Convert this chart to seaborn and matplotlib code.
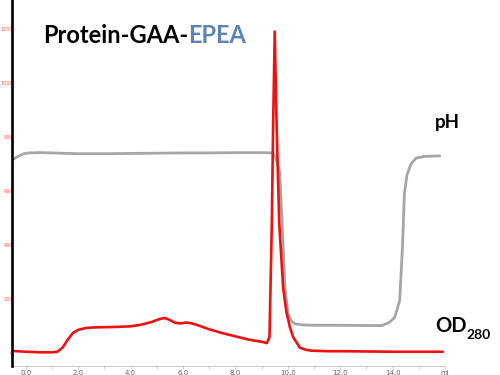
import numpy as np
import pandas as pd
import matplotlib
matplotlib.use("Agg")
import matplotlib.pyplot as plt
import seaborn as sns

# elution volume (ml) and OD280 signal (mAU)
od_ml = [-0.53, 0.0, 0.5, 1.0, 1.2, 1.4, 1.6, 1.8, 2.0, 2.3, 2.6, 3.0, 3.5, 4.0,
         4.4, 4.8, 5.1, 5.3, 5.5, 5.7, 5.9, 6.1, 6.3, 6.6, 7.0, 7.5, 8.0, 8.5,
         9.0, 9.2, 9.3, 9.39, 9.44, 9.5, 9.57, 9.67, 9.82, 9.95, 10.08, 10.2,
         10.46, 10.7, 10.9, 11.5, 12.0, 13.0, 14.0, 15.0, 15.92]
od_vals = [8, 5, 3, 3, 5, 20, 50, 75, 86, 93, 95, 96, 97, 99,
           105, 115, 126, 130, 122, 112, 110, 113, 111, 102, 88, 74, 62, 50,
           42, 37, 60, 486, 852, 1190, 852, 486, 242, 150, 96, 60,
           20, 12, 9, 7, 7, 6, 5, 5, 5]

# pH trace, drawn on the same (mAU) scale as in the original export
ph_ml = [-0.53, -0.3, -0.1, 0.1, 0.5, 1.0, 2.0, 3.0, 4.0, 5.0, 6.0, 7.0, 8.0,
         9.0, 9.44, 9.55, 9.69, 9.78, 9.89, 10.01, 10.12, 10.27, 10.6, 11.0,
         12.0, 13.0, 13.6, 13.9, 14.08, 14.27, 14.38, 14.45, 14.55, 14.7,
         14.9, 15.2, 15.8]
ph_vals = [715, 728, 737, 741, 742, 741, 738, 738, 739, 740, 741, 741, 742,
           742, 741, 720, 669, 486, 242, 146, 120, 108, 104, 103,
           103, 102, 102, 115, 133, 194, 400, 590, 660, 700,
           722, 728, 730]

x_ticks = [0, 2, 4, 6, 8, 10, 12, 14, 16]
x_ticklabels = ["0.0", "2.0", "4.0", "6.0", "8.0", "10.0", "12.0", "14.0", "ml"]
y_ticks = [0, 200, 400, 600, 800, 1000, 1200]

sns.set_theme(style="white")
plt.rcParams["font.family"] = ["Lato", "DejaVu Sans"]

fig = plt.figure(figsize=(5, 3.75), dpi=100)
ax = fig.add_axes([0.024, 0.0253, 0.866, 0.9747])

od_df = pd.DataFrame({"ml": od_ml, "value": od_vals})
ph_df = pd.DataFrame({"ml": ph_ml, "value": ph_vals})

sns.lineplot(data=ph_df, x="ml", y="value", ax=ax, color="#a6a6a6", linewidth=2.0)
sns.lineplot(data=od_df, x="ml", y="value", ax=ax, color="#ee1111", linewidth=1.9)

ax.set_xlim(-0.53, 16.0)
ax.set_ylim(-46, 1307)
ax.set_xlabel("")
ax.set_ylabel("")

ax.set_xticks(x_ticks)
ax.set_xticklabels(x_ticklabels)
ax.set_xticks(np.arange(1, 16, 2), minor=True)
ax.set_yticks(y_ticks)
ax.tick_params(axis="x", which="both", length=2, width=0.6, color="#c8c8c8",
               labelsize=5, labelcolor="#666666", pad=1.0, bottom=True)
ax.tick_params(axis="y", length=0, labelsize=3.6, labelcolor="#ff5a5a", pad=-0.8)
for lbl in ax.get_yticklabels():
    lbl.set_family("DejaVu Sans")
for lbl in ax.get_xticklabels():
    lbl.set_family("DejaVu Sans")

sns.despine(ax=ax, top=True, right=True)
ax.spines["left"].set_color("black")
ax.spines["left"].set_linewidth(1.9)
ax.spines["left"].set_zorder(3)
ax.spines["bottom"].set_color("#c8c8c8")
ax.spines["bottom"].set_linewidth(0.7)

# title in two colours
t1 = fig.text(43 / 500, 1 - 43.3 / 375, "Protein-GAA-", fontsize=17,
              fontweight="bold", color="black", va="baseline", ha="left")
ax.annotate("EPEA", xy=(1, 0), xycoords=t1, va="bottom", ha="left",
            fontsize=17, fontweight="bold", color="#5d84b8")

fig.text(435 / 500, 1 - 128.3 / 375, "pH", fontsize=13.5, fontweight="bold",
         color="black", va="baseline", ha="left")
od = fig.text(435 / 500, 1 - 331.7 / 375, "OD", fontsize=14.5, fontweight="bold",
              color="black", va="baseline", ha="left")
ax.annotate("280", xy=(1, 0), xycoords=od, xytext=(0, -3.5),
            textcoords="offset points", va="bottom", ha="left",
            fontsize=10, fontweight="bold", color="black")

fig.savefig("out.png", dpi=100)
